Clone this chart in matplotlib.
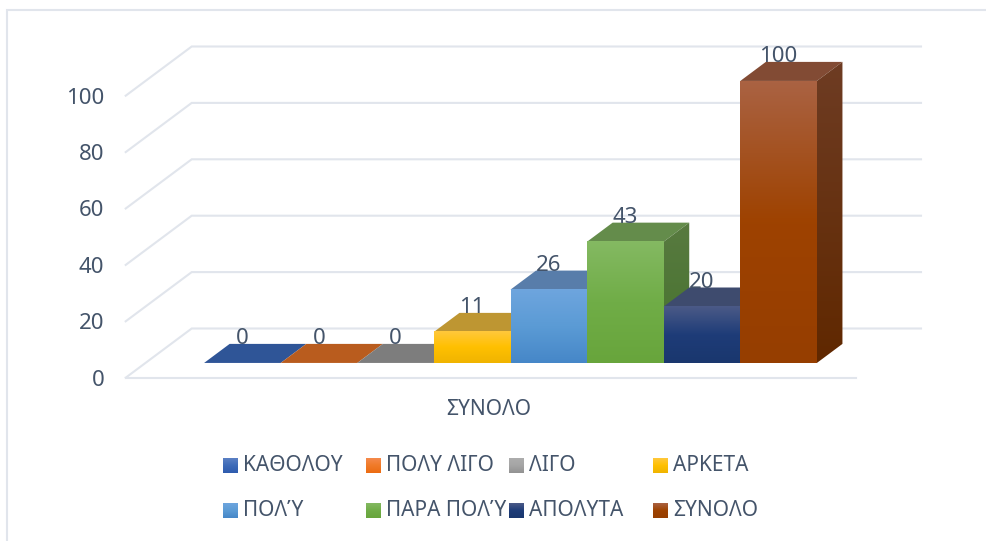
"""
3D style column chart of the answers (ΣΥΝΟΛΟ)
"""

### Import modules
import numpy as np
import matplotlib
matplotlib.use('Agg')
import matplotlib.pyplot as plt
from matplotlib.patches import Polygon, Rectangle

### Data
categories = ['ΚΑΘΟΛΟΥ','ΠΟΛΥ ΛΙΓΟ','ΛΙΓΟ','ΑΡΚΕΤΑ','ΠΟΛΎ','ΠΑΡΑ ΠΟΛΎ','ΑΠΟΛΥΤΑ','ΣΥΝΟΛΟ']
values = [0,0,0,11,26,43,20,100]
yticks = [0,20,40,60,80,100]
xlabel = 'ΣΥΝΟΛΟ'

### Colours: gradient top, middle, bottom of the front face, top face, side face top and bottom
front = [['#5B80C4','#3D6BB8','#2F5CAE'],
         ['#F58A4C','#F07A28','#EC6C12'],
         ['#ADADAD','#A5A5A5','#929292'],
         ['#FFC83C','#FFC000','#F0B400'],
         ['#6EA5DE','#5B9BD5','#4687C8'],
         ['#84B962','#70AD47','#68A53C'],
         ['#4B5A87','#1E3C78','#1A376E'],
         ['#AA6242','#9E4200','#963E00']]
topface = ['#2F5597','#B95C1E','#7D7D7D','#BE9632','#587DAA','#648C4B','#3E4B6E','#824B34']
side = [['#2F5597','#264478'],['#B95C1E','#9E480E'],['#7D7D7D','#636363'],['#9E7A20','#806000'],
        ['#4A6F99','#2E75B6'],['#587A40','#46732D'],['#2E3B5E','#1A2F5C'],['#6E3C23','#602800']]
textcolor = '#44546A'
gridcolor = '#E1E5EC'

### Layout in pixels of the reference
W,H = 986,541
left,right,base,pxunit = 125.7,855.7,377.7,2.82
barw = 76.6
wallx,wally = 66.,49.2
d0,d1 = 0.30,0.687
backright = 921.

### Font
plt.rcParams['font.family'] = ['Noto Sans','DejaVu Sans']

fig = plt.figure(figsize=(W/100.,H/100.),dpi=100)
ax = fig.add_axes([left/W,(H-base)/H,(right-left)/W,100*pxunit/H])
ax.set_autoscale_on(False)
span = (right-left)/barw
ax.set_xlim(0,span)
ax.set_ylim(0,100)
dx = wallx/barw
dy = wally/pxunit

def topx(px):
    return (px-left)/barw

def topy(py):
    return (base-py)/pxunit

def gradient(cols,extent,clip=None,zorder=3):
    rgb = [matplotlib.colors.to_rgb(c) for c in cols]
    pos = np.linspace(0,1,len(rgb))
    t = np.linspace(0,1,64)
    arr = np.stack([np.interp(t,pos,[c[k] for c in rgb]) for k in range(3)],axis=1)[:,None,:]
    im = ax.imshow(arr,extent=extent,aspect='auto',origin='upper',
                   interpolation='bilinear',zorder=zorder)
    im.set_clip_box(fig.bbox)
    if clip is not None:
        clip.set_transform(ax.transData)
        im.set_clip_path(clip)
    return im

### Frame
fig.add_artist(Rectangle((6.5/W,-0.02),(W+20)/W,(H-9.5)/H+0.02,transform=fig.transFigure,
                         fill=False,edgecolor=gridcolor,linewidth=1.5))

### Walls and gridlines
for t in yticks:
    ax.plot([0,dx,topx(backright)],[t,t+dy,t+dy],color=gridcolor,linewidth=1.5,
            clip_on=False,zorder=1,solid_joinstyle='miter')
ax.plot([0,span],[0,0],color=gridcolor,linewidth=1.5,clip_on=False,zorder=1)

### Bars
offset = (span-len(values))/2.
for i,v in enumerate(values):
    x0 = offset+i+d0*dx
    x1 = x0+1
    y0 = d0*dy
    depthx = (d1-d0)*dx
    depthy = (d1-d0)*dy
    ytop = y0+v
    z = 3+i
    ax.add_patch(Polygon([[x0,ytop],[x1,ytop],[x1+depthx,ytop+depthy],[x0+depthx,ytop+depthy]],
                         closed=True,facecolor=topface[i],edgecolor='none',clip_on=False,zorder=z))
    if v > 0:
        clip = Polygon([[x1,y0],[x1+depthx,y0+depthy],[x1+depthx,ytop+depthy],[x1,ytop]],closed=True)
        gradient(side[i],[x1,x1+depthx,y0,ytop+depthy],clip,zorder=z)
        gradient(front[i],[x0,x1,y0,ytop],zorder=z)
    ax.text(x0+0.5,ytop+depthy+5./pxunit,str(v),ha='center',va='center',fontsize=16,
            color=textcolor,clip_on=False,zorder=20)

### Axes text
for s in ax.spines.values():
    s.set_visible(False)
ax.patch.set_visible(False)
ax.set_yticks(yticks)
ax.set_yticklabels([str(t) for t in yticks],fontsize=16,color=textcolor)
ax.set_xticks([span/2.-0.02])
ax.set_xticklabels([xlabel],fontsize=15,color=textcolor)
ax.tick_params(axis='y',length=0,pad=15.5)
ax.tick_params(axis='x',length=0,pad=15.5)

### Legend
legx = [223,366,509,653]
legy = [465.5,510.5]
for i,name in enumerate(categories):
    px = legx[i%4]
    py = legy[i//4]
    gradient(front[i],[topx(px),topx(px+14.5),topy(py+7.5),topy(py-7.5)],zorder=10)
    ax.text(topx(px+20),topy(py),name,ha='left',va='center',fontsize=15,color=textcolor,
            clip_on=False)

plt.savefig('out.png',dpi=100,facecolor='white')
